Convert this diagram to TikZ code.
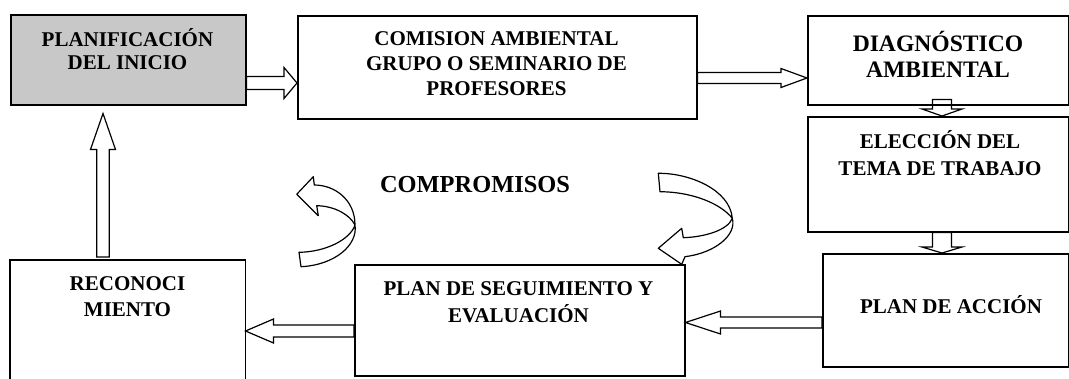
\documentclass[tikz,border=0pt]{standalone}
\usepackage{fontspec}
\setmainfont{Liberation Serif}
\usetikzlibrary{calc,backgrounds}
\tikzset{
  box/.style={draw, line width=1.5pt, inner sep=0pt, anchor=north west},
  lbl/.style={align=center, inner sep=0pt},
  blk/.style={draw, fill=white, line width=1.2pt, line join=miter},
  curv/.style={draw, fill=white, line width=1.2pt, line join=round},
}
\newcommand{\fs}[2]{\bfseries\fontsize{#1}{#2}\selectfont}
% #1 start, #2 tip, #3 half shaft, #4 half head, #5 head length
\newcommand{\blockarrow}[5]{%
  \coordinate (ba-h) at ($(#2)!#5!(#1)$);
  \draw[blk] ($(#1)!#3!90:(#2)$) -- ($(ba-h)!#3!-90:(#1)$) -- ($(ba-h)!#4!-90:(#1)$)
    -- (#2) -- ($(ba-h)!#4!90:(#1)$) -- ($(ba-h)!#3!90:(#1)$) -- ($(#1)!#3!-90:(#2)$) -- cycle;}
\begin{document}
\begin{tikzpicture}[x=1pt,y=-1pt]
\useasboundingbox (0,0) rectangle (1069,378);

% boxes
\node[box, fill={rgb,255:red,200;green,200;blue,200}, minimum width=235pt, minimum height=90pt] (b1) at (10,14) {};
\node[box, minimum width=399pt, minimum height=103pt] (b2) at (297,15) {};
\node[box, minimum width=261pt, minimum height=89pt] (b3) at (807,15) {};
\node[box, minimum width=261pt, minimum height=115pt] (b4) at (807,116) {};
\node[box, minimum width=246pt, minimum height=113pt] (b5) at (822,253) {};
\node[box, minimum width=330pt, minimum height=111pt] (b6) at (354,264) {};
\node[box, draw=none, minimum width=234pt, minimum height=118pt] (b7) at (10,260) {};
\draw[line width=1.5pt] (b7.south west) -- (b7.north west) -- (b7.north east) -- (b7.south east);

% texts
\node[lbl, font=\fs{21}{23.5}] (t1) at (127.5,49) {PLANIFICACIÓN\\DEL INICIO};
\node[lbl, font=\fs{21}{25}] (t2) at (496.5,64) {COMISION AMBIENTAL\\GRUPO O SEMINARIO DE\\PROFESORES};
\node[lbl, font=\fs{23.6}{26}] (t3) at (938,54) {DIAGNÓSTICO\\AMBIENTAL};
\node[lbl, font=\fs{21}{27}] (t4) at (940,153) {ELECCIÓN DEL\\TEMA DE TRABAJO};
\node[lbl, font=\fs{21}{25}] (t5) at (951,305) {PLAN DE ACCIÓN};
\node[lbl, font=\fs{21}{27}] (t6) at (518.5,302) {PLAN DE SEGUIMIENTO Y\\EVALUACIÓN};
\node[lbl, font=\fs{21}{26}] (t7) at (127.5,297) {RECONOCI\\MIENTO};
\node[lbl, font=\fs{24.4}{28}] (t8) at (475,185) {COMPROMISOS};

% block arrows
\begin{scope}[on background layer]
\coordinate (a1s) at (b1.east |- 0,83);
\coordinate (a1t) at (b2.west |- 0,83);
\blockarrow{a1s}{a1t}{6.5pt}{15.5pt}{13pt}
\coordinate (a2s) at (b2.east |- 0,78);
\coordinate (a2t) at (b3.west |- 0,78);
\blockarrow{a2s}{a2t}{5.5pt}{9.5pt}{26pt}
\coordinate (a3s) at ([yshift=6pt]b3.south -| 942,0);
\coordinate (a3t) at (b4.north -| 942,0);
\blockarrow{a3s}{a3t}{9.5pt}{20pt}{7pt}
\coordinate (a4s) at (b4.south -| 942,0);
\coordinate (a4t) at (b5.north -| 942,0);
\blockarrow{a4s}{a4t}{9.5pt}{20pt}{6pt}
\coordinate (a5s) at (b5.west |- 0,322.5);
\coordinate (a5t) at (b6.east |- 0,322.5);
\blockarrow{a5s}{a5t}{5.5pt}{11.5pt}{35pt}
\coordinate (a6s) at (b6.west |- 0,331);
\coordinate (a6t) at (b7.east |- 0,331);
\blockarrow{a6s}{a6t}{6pt}{12pt}{28pt}
\coordinate (a7s) at ([yshift=3pt]b7.north -| 103,0);
\coordinate (a7t) at ([yshift=-8pt]b1.south -| 103,0);
\blockarrow{a7s}{a7t}{6.3pt}{12.5pt}{36pt}
\end{scope}

% curved arrows
\draw[curv] (314.3,185) .. controls (335,185) and (355,200) .. (355,225)
  .. controls (358,245) and (335,265) .. (301,266.7) -- (299,252.3)
  .. controls (325,252) and (350,240) .. (355,225)
  .. controls (350,215) and (335,206) .. (316.7,205.7)
  -- (318.3,215.7) -- (296.7,194.3) -- (313.3,176.7) -- cycle;
\draw[curv] (658.3,173.3) .. controls (690,173) and (730,190) .. (732.3,218.3)
  .. controls (737,235) and (715,253) .. (685,256.7)
  -- (681.7,264.3) -- (658.3,248.3) -- (681.7,228.3) -- (683.3,237.7)
  .. controls (705,237) and (728,230) .. (732.3,218.3)
  .. controls (722,205) and (695,192) .. (660,191.7) -- cycle;
\end{tikzpicture}
\end{document}
